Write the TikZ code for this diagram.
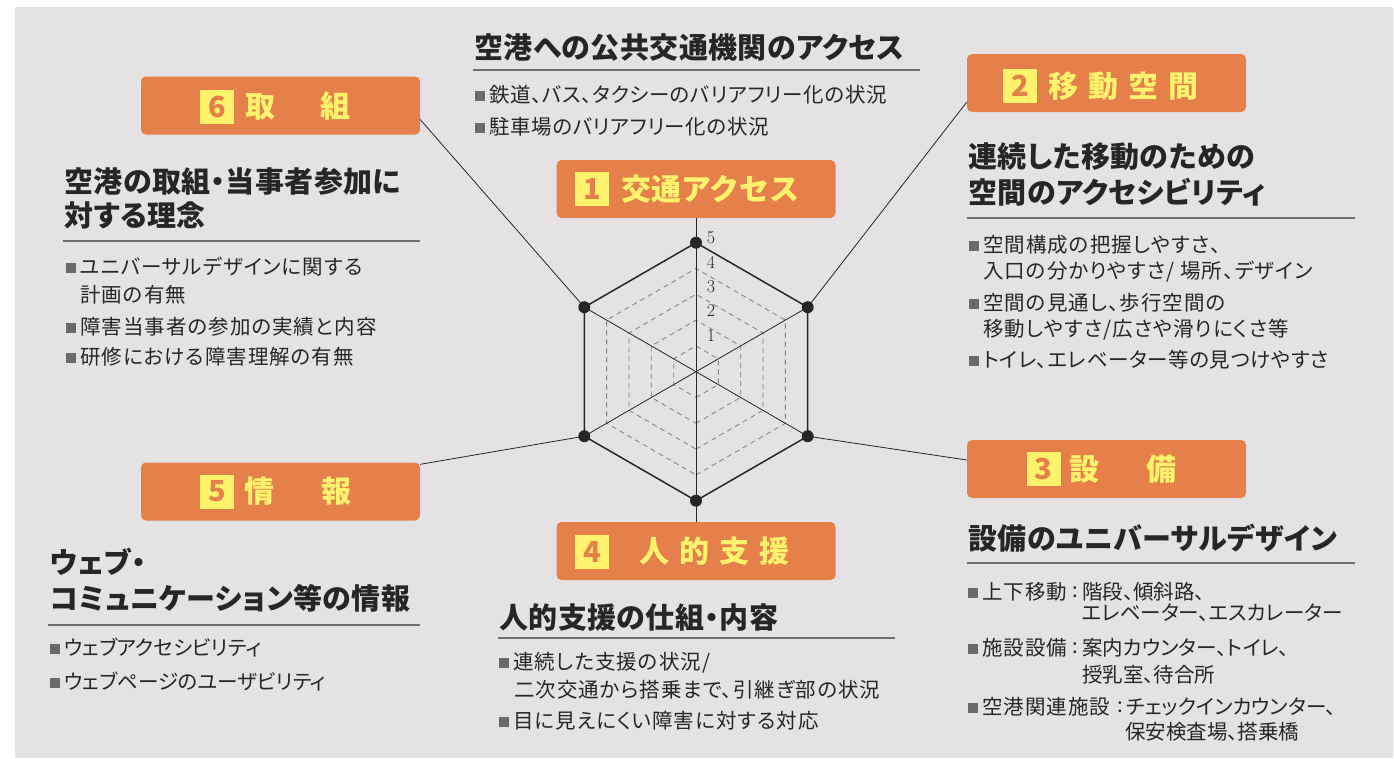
\documentclass[tikz,border=0pt]{standalone}
\usepackage{fontspec}
\newfontfamily\jp{Noto Sans CJK JP}
\newfontfamily\jpp[RawFeature=+palt]{Noto Sans CJK JP}
\newfontfamily\jph[RawFeature=+palt,LetterSpace=1.5]{Noto Sans CJK JP}
\newfontfamily\jpa[RawFeature=+palt,LetterSpace=5]{Noto Sans CJK JP}
\newfontfamily\jpb[RawFeature=+palt,LetterSpace=3]{Noto Sans CJK JP}
\usetikzlibrary{calc}
\definecolor{bg}{HTML}{E4E2E3}
\definecolor{org}{HTML}{E5804B}
\definecolor{yel}{HTML}{FFF36E}
\definecolor{ink}{HTML}{262626}
\definecolor{bul}{HTML}{6A6A6A}
\definecolor{rulec}{HTML}{6E6E6E}
\newcommand{\blt}{{\color{bul}\raisebox{2pt}{\rule{10pt}{10pt}}}\hspace{4pt}}
\tikzset{
  catbox/.style={fill=org, rounded corners=5pt, minimum width=279pt, minimum height=58pt, inner sep=0pt},
  numsq/.style={fill=yel, text=org, minimum size=34pt, inner sep=0pt, font=\jp\bfseries\fontsize{29}{29}\selectfont},
  boxtxt/.style={text=yel, anchor=west, inner sep=0pt, font=\jp\bfseries\fontsize{30}{30}\selectfont},
  head/.style={text=ink, anchor=west, inner sep=0pt, font=\jph\bfseries\fontsize{29}{29}\selectfont},
  body/.style={text=ink, anchor=west, inner sep=0pt, font=\jpp\fontsize{20.5}{20.5}\selectfont},
  bodyw/.style={body, font=\jpa\fontsize{20.5}{20.5}\selectfont},
  bodym/.style={body, font=\jpb\fontsize{20.5}{20.5}\selectfont},
  hrule/.style={draw=rulec, line width=1.2pt},
  spoke/.style={draw=ink, line width=0.8pt},
  gridd/.style={draw=gray, line width=0.8pt, dash pattern=on 5pt off 4pt},
  outer/.style={draw=ink, line width=1.5pt},
  scalelbl/.style={text=ink, inner sep=0pt, font=\fontsize{18}{18}\selectfont},
}
\begin{document}
\begin{tikzpicture}[x=1pt,y=-1pt]
\useasboundingbox (0,0) rectangle (1394,758);
\fill[white] (0,0) rectangle (1394,758);
\fill[bg] (15,7) rectangle (1393,758);

% category boxes
\node[catbox] (box1) at (696,189) {};
\node[catbox] (box2) at (1106.5,83) {};
\node[catbox] (box3) at (1106.5,469) {};
\node[catbox] (box4) at (696,551) {};
\node[catbox] (box5) at (280.5,491.5) {};
\node[catbox] (box6) at (280.5,105.5) {};

\node[numsq] (n1) at (592,189) {1};
\node[boxtxt] (t1) at (621,189) {交通アクセス};
\node[numsq] (n2) at (1020,86) {2};
\node[boxtxt] (t2) at (1048,86) {移\hspace{10pt}動\hspace{10pt}空\hspace{10pt}間};
\node[numsq] (n3) at (1043.5,469) {3};
\node[boxtxt] (t3) at (1069,469) {設\hspace{47pt}備};
\node[numsq] (n4) at (592,551.5) {4};
\node[boxtxt] (t4) at (639,551.5) {人\hspace{10pt}的\hspace{10pt}支\hspace{10pt}援};
\node[numsq] (n5) at (217,491.5) {5};
\node[boxtxt] (t5) at (244,491.5) {情\hspace{47pt}報};
\node[numsq] (n6) at (217,106.5) {6};
\node[boxtxt] (t6) at (245,106.5) {取\hspace{45pt}組};

% radar chart
\coordinate (C) at (696,371.7);
\coordinate (vT) at ($(C)+(0,-129)$);
\coordinate (vB) at ($(C)+(0,129)$);
\coordinate (vUR) at ($(C)+(111.7,-64.5)$);
\coordinate (vLR) at ($(C)+(111.7,64.5)$);
\coordinate (vUL) at ($(C)+(-111.7,-64.5)$);
\coordinate (vLL) at ($(C)+(-111.7,64.5)$);

\foreach \k in {1,2,3,4} {
  \pgfmathsetmacro{\r}{25.8*\k}
  \draw[gridd, shift={(C)}] (90:\r) -- (30:\r) -- (-30:\r) -- (-90:\r) -- (-150:\r) -- (150:\r) -- cycle;
}
\draw[spoke] (box1.south) -- (box4.north);
\draw[spoke] (vUL) -- (vLR);
\draw[spoke] (vUR) -- (vLL);
\draw[outer] (vT) -- (vUR) -- (vLR) -- (vB) -- (vLL) -- (vUL) -- cycle;

\draw[spoke] (vUL) -- ([yshift=-14pt]box6.east);
\draw[spoke] (vUR) -- ([yshift=-19pt]box2.west);
\draw[spoke] (vLR) -- ([yshift=9pt]box3.west);
\draw[spoke] (vLL) -- ([yshift=-2pt]box5.north east);

\foreach \v in {vT,vB,vUR,vLR,vUL,vLL} \fill[ink] (\v) circle (6pt);

\node[scalelbl] (s5) at (711,238) {5};
\node[scalelbl] (s4) at (711,262) {4};
\node[scalelbl] (s3) at (711,287) {3};
\node[scalelbl] (s2) at (711,311) {2};
\node[scalelbl] (s1) at (711,336) {1};

% top centre
\node[head] (h1) at (474,47.5) {空港への公共交通機関のアクセス};
\draw[hrule] (473,70) -- (920,70);
\node[bodym] (b11) at (475,95) {\blt 鉄道、バス、タクシーのバリアフリー化の状況};
\node[bodym] (b12) at (475,127) {\blt 駐車場のバリアフリー化の状況};

% top left
\node[head] (h6a) at (64,182) {空港の取組・当事者参加に};
\node[head] (h6b) at (64,215) {対する理念};
\draw[hrule] (63,241) -- (420,241);
\node[bodyw] (b61) at (66,267) {\blt ユニバーサルデザインに関する};
\node[bodyw] (b61b) at (80,295) {計画の有無};
\node[bodyw] (b62) at (66,327) {\blt 障害当事者の参加の実績と内容};
\node[bodyw] (b63) at (66,357) {\blt 研修における障害理解の有無};

% top right
\node[head] (h2a) at (968,157) {連続した移動のための};
\node[head] (h2b) at (968,192) {空間のアクセシビリティ};
\draw[hrule] (967,218) -- (1355,218);
\node[bodyw] (b21) at (969,245) {\blt 空間構成の把握しやすさ、};
\node[bodyw] (b21b) at (983,272) {入口の分かりやすさ/ 場所、デザイン};
\node[bodyw] (b22) at (969,303) {\blt 空間の見通し、歩行空間の};
\node[bodyw] (b22b) at (983,330) {移動しやすさ/広さや滑りにくさ等};
\node[bodym] (b23) at (969,360) {\blt トイレ、エレベーター等の見つけやすさ};

% bottom right
\node[head] (h3) at (968,538) {設備のユニバーサルデザイン};
\draw[hrule] (967,563) -- (1355,563);
\node[bodyw] (b31) at (968,592) {\blt 上下移動};
\node[body] (c31) at (1072,592) {:};
\node[body] (v31) at (1082,592) {階段、傾斜路、};
\node[body] (v31b) at (1082,613) {エレベーター、エスカレーター};
\node[bodyw] (b32) at (968,648) {\blt 施設設備};
\node[body] (c32) at (1072,648) {:};
\node[body] (v32) at (1082,648) {案内カウンター、トイレ、};
\node[body] (v32b) at (1082,675) {授乳室、待合所};
\node[bodyw] (b33) at (968,707) {\blt 空港関連施設};
\node[body] (c33) at (1117,707) {:};
\node[body] (v33) at (1126,707) {チェックインカウンター、};
\node[body] (v33b) at (1125,732) {保安検査場、搭乗橋};

% bottom centre
\node[head] (h4) at (499,617) {人的支援の仕組・内容};
\draw[hrule] (498,638) -- (895,638);
\node[bodyw] (b41) at (499,663) {\blt 連続した支援の状況/};
\node[bodyw] (b41b) at (514,690) {二次交通から搭乗まで、引継ぎ部の状況};
\node[bodyw] (b42) at (499,721) {\blt 目に見えにくい障害に対する対応};

% bottom left
\node[head] (h5a) at (50,562) {ウェブ・};
\node[head] (h5b) at (50,598) {コミュニケーション等の情報};
\draw[hrule] (48,625) -- (420,625);
\node[body] (b51) at (50,648) {\blt ウェブアクセシビリティ};
\node[body] (b52) at (50,682) {\blt ウェブページのユーザビリティ};
\end{tikzpicture}
\end{document}
